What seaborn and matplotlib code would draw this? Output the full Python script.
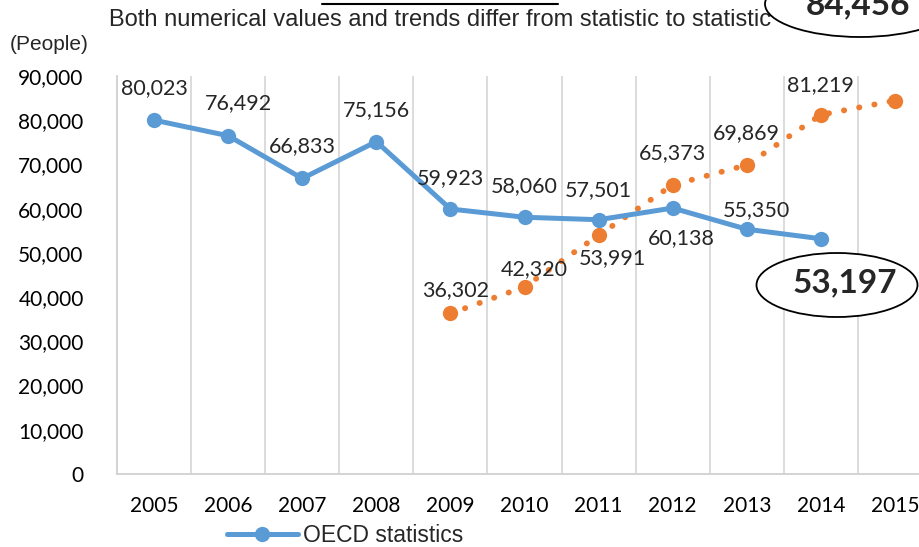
import matplotlib
matplotlib.use("Agg")
import matplotlib.pyplot as plt
import seaborn as sns
import pandas as pd
from matplotlib.patches import Ellipse
from matplotlib.lines import Line2D

years = [2005, 2006, 2007, 2008, 2009, 2010, 2011, 2012, 2013, 2014, 2015]
oecd_years = [2005, 2006, 2007, 2008, 2009, 2010, 2011, 2012, 2013, 2014]
oecd_values = [80023, 76492, 66833, 75156, 59923, 58060, 57501, 60138, 55350, 53197]
other_years = [2009, 2010, 2011, 2012, 2013, 2014, 2015]
other_values = [36302, 42320, 53991, 65373, 69869, 81219, 84456]
y_ticks = [0, 10000, 20000, 30000, 40000, 50000, 60000, 70000, 80000, 90000]
title_text = "Both numerical values and trends differ from statistic to statistic"
unit_text = "(People)"
legend_label = "OECD statistics"

BLUE = "#5B9BD5"
ORANGE = "#ED7D31"

sns.set_theme(style="white")
plt.rcParams['font.family'] = ['Lato', 'DejaVu Sans']

W, H = 919, 547
fig = plt.figure(figsize=(W / 100, H / 100), dpi=100)
ax_left, ax_right, ax_top, ax_bottom = 117, 932, 76, 474
ax = fig.add_axes([ax_left / W, 1 - ax_bottom / H, (ax_right - ax_left) / W, (ax_bottom - ax_top) / H])

df_oecd = pd.DataFrame({"year": oecd_years, "value": oecd_values})
df_other = pd.DataFrame({"year": other_years, "value": other_values})

sns.lineplot(data=df_other, x="year", y="value", ax=ax, color=ORANGE, linewidth=4.2,
             linestyle=(0, (0.05, 2.6)), dash_capstyle="round", marker="o", markersize=11,
             markeredgewidth=0, zorder=3)
sns.lineplot(data=df_oecd, x="year", y="value", ax=ax, color=BLUE, linewidth=3.6,
             marker="o", markersize=11, markeredgewidth=0, zorder=4)

ax.set_xlim(years[0] - 0.5, years[-1] + 0.5)
ax.set_ylim(0, 90000)
ax.set_xticks(years)
ax.set_xticklabels([str(y) for y in years], fontsize=15)
ax.set_yticks(y_ticks)
ax.set_yticklabels([f"{v:,}" for v in y_ticks], fontsize=15)
ax.set_xlabel("")
ax.set_ylabel("")
ax.tick_params(axis="both", length=0, colors="black")
ax.tick_params(axis="x", pad=16)
ax.tick_params(axis="y", pad=24)
ax.set_xticks([y + 0.5 for y in years[:-1]], minor=True)
ax.grid(False)
ax.grid(True, axis="x", which="minor", color="#D9D9D9", linewidth=1.3)
for s in ["top", "right"]:
    ax.spines[s].set_visible(False)
for s in ["left", "bottom"]:
    ax.spines[s].set_color("#D0D0D0")
    ax.spines[s].set_linewidth(1.3)
if ax.get_legend():
    ax.get_legend().remove()

# data labels (offsets in pixels)
oecd_off = {2005: (0, 32), 2006: (10, 33), 2007: (0, 32), 2008: (0, 32), 2009: (0, 31),
            2010: (0, 31), 2011: (0, 30), 2012: (9, -30), 2013: (10, 19)}
for yr, v in zip(oecd_years, oecd_values):
    if yr in oecd_off:
        dx, dy = oecd_off[yr]
        ax.annotate(f"{v:,}", (yr, v), xytext=(dx, dy), textcoords="offset pixels",
                    ha="center", va="center", fontsize=15.5, zorder=6)
other_off = {2009: (5, 23), 2010: (10, 18), 2011: (14, -23), 2012: (0, 32), 2013: (0, 32), 2014: (0, 30)}
for yr, v in zip(other_years, other_values):
    if yr in other_off:
        dx, dy = other_off[yr]
        ax.annotate(f"{v:,}", (yr, v), xytext=(dx, dy), textcoords="offset pixels",
                    ha="center", va="center", fontsize=15.5, zorder=6)

# highlighted final values in ellipses
def fig_ellipse(cx, cy, w, h):
    e = Ellipse((cx / W, 1 - cy / H), w / W, h / H, transform=fig.transFigure,
                facecolor="white", edgecolor="black", linewidth=1.3, zorder=10)
    fig.patches.append(e)

fig_ellipse(837, 285, 161, 64)
fig.text(845 / W, 1 - 283 / H, f"{oecd_values[-1]:,}", ha="center", va="center",
         fontsize=24, fontweight="bold", zorder=11)
fig_ellipse(860, 4, 190, 66)
fig.text(858 / W, 1 - 5 / H, f"{other_values[-1]:,}", ha="center", va="center",
         fontsize=24, fontweight="bold", zorder=11)

# title and unit
fig.text(440 / W, 1 - 20 / H, title_text, ha="center", va="center", fontsize=17,
         family=["Liberation Sans", "DejaVu Sans"])
fig.add_artist(Line2D([322 / W, 558 / W], [1 - 4 / H, 1 - 4 / H], transform=fig.transFigure,
                      color="black", linewidth=1.5))
fig.text(10 / W, 1 - 45 / H, unit_text, ha="left", va="center", fontsize=15,
         family=["Liberation Sans", "DejaVu Sans"])

# legend
handle = Line2D([], [], color=BLUE, linewidth=3.6, marker="o", markersize=11, markeredgewidth=0)
fig.legend([handle], [legend_label], loc="center left", bbox_to_anchor=(206 / W, 1 - 536 / H),
           frameon=False, handlelength=3.1, handletextpad=0.25,
           prop={"family": ["Liberation Sans", "DejaVu Sans"], "size": 16.5})

fig.savefig("out.png", dpi=100)
